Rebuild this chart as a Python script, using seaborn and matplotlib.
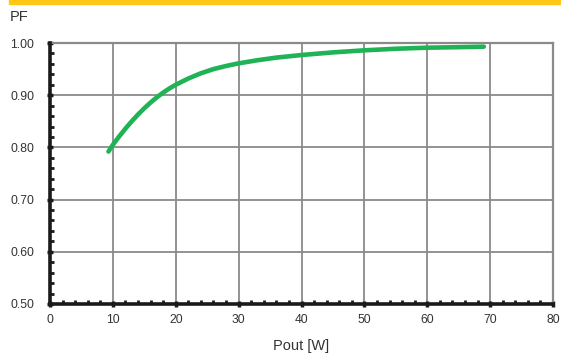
import matplotlib
matplotlib.use("Agg")
import matplotlib.pyplot as plt
from matplotlib.ticker import MultipleLocator
import seaborn as sns
import pandas as pd

# Power factor versus output power
pout_w = [9.3, 10, 11, 12, 13, 14, 15, 16, 17, 18, 19, 20, 22, 24, 26, 28, 30,
          33, 36, 40, 45, 50, 55, 60, 65, 69]
pf = [0.792, 0.805, 0.821, 0.836, 0.850, 0.863, 0.875, 0.886, 0.896, 0.905,
      0.913, 0.920, 0.932, 0.942, 0.950, 0.956, 0.961, 0.967, 0.972, 0.977,
      0.982, 0.986, 0.989, 0.991, 0.992, 0.993]

x_ticks = [0, 10, 20, 30, 40, 50, 60, 70, 80]
y_ticks = [0.50, 0.60, 0.70, 0.80, 0.90, 1.00]
y_tick_labels = ["0.50", "0.60", "0.70", "0.80", "0.90", "1.00"]

sns.set_style("white")
plt.rcParams["font.family"] = ["Liberation Sans", "DejaVu Sans"]

df = pd.DataFrame({"Pout": pout_w, "PF": pf})

fig = plt.figure(figsize=(5.61, 3.53), dpi=100)
ax = fig.add_axes([50 / 561, 1 - 304 / 353, 503 / 561, 261 / 353])

# yellow header band
fig.patches.append(plt.Rectangle((9 / 561, 1 - 4 / 353), 1, 4 / 353,
                                 transform=fig.transFigure, color="#ffc814",
                                 zorder=0))

sns.lineplot(data=df, x="Pout", y="PF", ax=ax, color="#1fb356", lw=3.3,
             solid_capstyle="round", zorder=3)

ax.set_xlim(0, 80)
ax.set_ylim(0.5, 1.0)
ax.set_xticks(x_ticks)
ax.set_yticks(y_ticks)
ax.set_yticklabels(y_tick_labels)
ax.xaxis.set_minor_locator(MultipleLocator(2))
ax.yaxis.set_minor_locator(MultipleLocator(0.02))

ax.grid(True, which="major", color="#8a8a8a", lw=1.3)
ax.set_axisbelow(True)

for side in ("top", "right"):
    ax.spines[side].set_color("#8a8a8a")
    ax.spines[side].set_linewidth(1.6)
for side in ("left", "bottom"):
    ax.spines[side].set_color("#1a1a1a")
    ax.spines[side].set_linewidth(2.6)
    ax.spines[side].set_zorder(4)

ax.tick_params(which="major", direction="inout", length=5, width=2.5,
               color="#1a1a1a", labelsize=8.7, labelcolor="#333333",
               left=True, bottom=True)
ax.tick_params(axis="y", which="major", pad=9)
ax.tick_params(axis="x", which="major", pad=5)
ax.tick_params(which="minor", direction="in", length=3, width=2,
               color="#1a1a1a", left=True, bottom=True)

ax.set_xlabel("Pout [W]", fontsize=10.5, color="#333333", labelpad=9)
ax.set_ylabel("")
fig.text(10 / 561, 1 - 17 / 353, "PF", fontsize=10.5, color="#333333",
         va="center", ha="left")

fig.savefig("out.png", dpi=100)
